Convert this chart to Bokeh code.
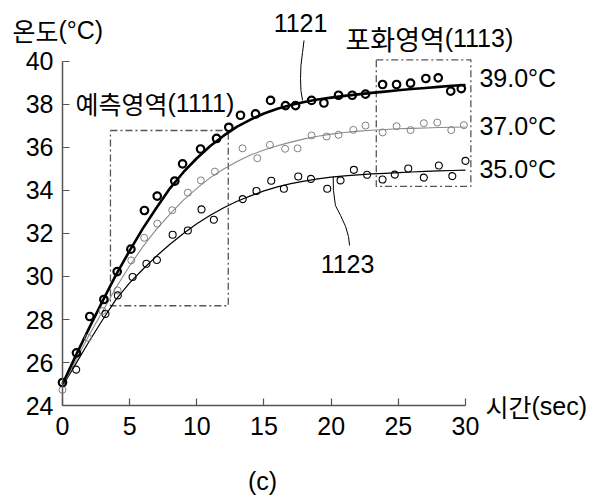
from bokeh.plotting import figure
from bokeh.models import Range1d, FixedTicker, Label, LinearAxis
from bokeh.embed import file_html
from bokeh.resources import INLINE

# ---------------- data ----------------
# measured points, 39.0 C series (bold circles)
t39 = [0, 1.04, 2.03, 3.08, 4.07, 5.09, 6.1, 7.05, 8.36, 8.94, 10.28, 11.47, 12.38,
       13.25, 14.37, 15.49, 16.6, 17.35, 18.54, 19.46, 20.55, 21.57, 22.56, 23.83,
       24.87, 25.91, 27.05, 27.97, 28.9, 29.69]
v39 = [25.07, 26.45, 28.14, 28.93, 30.23, 31.27, 33.07, 33.74, 34.44, 35.24, 35.93,
       36.42, 36.94, 37.5, 37.56, 38.19, 37.95, 37.95, 38.19, 38.07, 38.43, 38.43,
       38.48, 38.93, 38.93, 38.99, 39.21, 39.24, 38.62, 38.74]

# 37.0 C series (grey circles)
t37 = [0, 1.9, 2.98, 4.1, 5.12, 6.08, 7.06, 8.17, 9.33, 10.3, 11.34, 13.4, 14.5,
       15.44, 16.57, 17.5, 18.54, 19.66, 20.55, 21.65, 22.56, 23.83, 24.87, 25.91,
       26.9, 27.9, 28.94, 29.88]
v37 = [24.73, 27.15, 28.4, 29.35, 30.75, 31.8, 32.46, 33.08, 33.9, 34.47, 34.88,
       35.96, 35.5, 36.12, 35.94, 35.96, 36.56, 36.51, 36.59, 36.82, 37.02, 36.7,
       36.99, 36.81, 37.13, 37.16, 36.81, 37.04]

# 35.0 C series (thin black circles)
t35 = [1.02, 3.2, 4.12, 5.22, 6.25, 7.03, 8.2, 9.33, 10.35, 11.27, 13.42, 14.44,
       15.54, 16.48, 17.55, 18.5, 19.71, 20.7, 21.69, 22.68, 23.83, 24.74, 25.74,
       26.9, 28.02, 29.02, 30.0]
v35 = [25.67, 28.26, 29.12, 29.98, 30.59, 30.77, 31.94, 32.14, 33.12, 32.64, 33.6,
       33.98, 34.45, 34.08, 34.65, 34.54, 34.08, 34.47, 34.96, 34.73, 34.51, 34.74,
       35.02, 34.6, 35.16, 34.67, 35.38]

# fitted curves, read at every second
fit_t = list(range(0, 31))
fit39 = [25.0, 26.33, 27.62, 28.88, 30.1, 31.2, 32.25, 33.2, 34.1, 34.85, 35.5, 36.07,
         36.55, 36.97, 37.3, 37.58, 37.8, 37.98, 38.12, 38.23, 38.32, 38.4, 38.47,
         38.54, 38.6, 38.66, 38.72, 38.77, 38.82, 38.87, 38.91]
fit37 = [24.9, 26.1, 27.3, 28.4, 29.5, 30.5, 31.4, 32.2, 32.9, 33.55, 34.1, 34.6,
         35.0, 35.35, 35.65, 35.88, 36.08, 36.25, 36.4, 36.52, 36.62, 36.7, 36.76,
         36.8, 36.84, 36.87, 36.89, 36.91, 36.93, 36.94, 36.95]
fit35 = [24.9, 25.95, 27.0, 28.0, 28.95, 29.7, 30.35, 30.95, 31.5, 32.0, 32.45, 32.85,
         33.2, 33.5, 33.75, 33.98, 34.17, 34.32, 34.44, 34.54, 34.62, 34.68, 34.73,
         34.77, 34.8, 34.83, 34.86, 34.89, 34.91, 34.93, 34.95]

# regions: (t_start, t_end, temp_low, temp_high)
predict_region = (3.57, 12.34, 28.64, 36.79)
saturate_region = (23.36, 30.40, 34.19, 40.08)

x_ticks = [0, 5, 10, 15, 20, 25, 30]
y_ticks = [24, 26, 28, 30, 32, 34, 36, 38, 40]

# leader lines
lead1121_t = [17.98, 17.87, 17.75, 17.72, 17.75, 17.87]
lead1121_v = [40.98, 40.42, 39.81, 39.21, 38.65, 38.19]
lead1123_t = [20.15, 20.17, 20.32, 20.70, 21.07, 21.29, 21.37]
lead1123_v = [34.65, 34.00, 33.30, 32.84, 32.33, 31.86, 31.44]

NUM_FONT = "Liberation Sans"
KR_FONT = "Noto Sans CJK KR"
NUM_SIZE = "25px"
KR_SIZE = "25px"

# ---------------- figure ----------------
# the frame spans the whole canvas; the axes are pinned at t=0 and 24 C
p = figure(width=589, height=503,
           x_range=Range1d(-4.6155, 39.232), y_range=Range1d(19.442, 42.837),
           output_backend="svg", toolbar_location=None,
           min_border_left=0, min_border_right=0, min_border_top=0, min_border_bottom=0,
           x_axis_type=None, y_axis_type=None)
p.outline_line_color = None
p.xgrid.visible = False
p.ygrid.visible = False
p.background_fill_color = "white"
p.border_fill_color = "white"

xax = LinearAxis(fixed_location=24)
yax = LinearAxis(fixed_location=0)
p.add_layout(xax, "below")
p.add_layout(yax, "left")

for ax, ticks, bnds in ((xax, x_ticks, (0, 30)), (yax, y_ticks, (24, 40))):
    ax.ticker = FixedTicker(ticks=ticks)
    ax.bounds = bnds
    ax.axis_line_color = "#555555"
    ax.axis_line_width = 1.5
    ax.major_tick_line_color = "#555555"
    ax.major_tick_line_width = 1.2
    ax.major_tick_in = 7
    ax.major_tick_out = 0
    ax.minor_tick_line_color = None
    ax.major_label_text_font = NUM_FONT
    ax.major_label_text_font_size = NUM_SIZE
    ax.major_label_text_color = "black"
xax.major_label_standoff = 11
yax.major_label_standoff = 9

# region boxes
for (x0, x1, y0, y1) in (predict_region, saturate_region):
    p.line([x0, x1, x1, x0, x0], [y1, y1, y0, y0, y1], line_color="#555555",
           line_width=1.3, line_dash="7 3 2 3")

# fitted curves
p.line(fit_t, fit35, line_color="black", line_width=1.2, line_join="round")
p.line(fit_t, fit37, line_color="#8a8a8a", line_width=1.1, line_join="round")
p.line(fit_t, fit39, line_color="black", line_width=2.6, line_join="round")

# measured points
p.scatter(t35, v35, size=7, marker="circle", fill_alpha=0, line_color="black", line_width=1.1)
p.scatter(t37, v37, size=7, marker="circle", fill_alpha=0, line_color="#808080", line_width=1.0)
p.scatter(t39, v39, size=7.5, marker="circle", fill_alpha=0, line_color="black", line_width=2.2)

# leader lines
p.line(lead1121_t, lead1121_v, line_color="black", line_width=1)
p.line(lead1123_t, lead1123_v, line_color="black", line_width=1)


def lab(x, y, text, font, size, align="left"):
    p.add_layout(Label(x=x, y=y, text=text, text_font=font, text_font_size=size,
                       text_baseline="middle", text_align=align, text_color="black"))


# axis titles
lab(-3.72, 41.45, "온도", KR_FONT, KR_SIZE)
lab(-0.30, 41.45, "(°C)", NUM_FONT, NUM_SIZE)
lab(31.49, 24.0, "시간", KR_FONT, KR_SIZE)
lab(34.91, 24.0, "(sec)", NUM_FONT, NUM_SIZE)
lab(14.89, 20.51, "(c)", NUM_FONT, NUM_SIZE, "center")

# annotations
lab(17.72, 41.77, "1121", NUM_FONT, NUM_SIZE, "center")
lab(21.22, 30.60, "1123", NUM_FONT, NUM_SIZE, "center")
lab(0.97, 38.09, "예측영역", KR_FONT, KR_SIZE)
lab(7.82, 38.09, "(1111)", NUM_FONT, NUM_SIZE)
lab(21.07, 41.07, "포화영역", KR_FONT, "27px")
lab(28.45, 41.07, "(1113)", NUM_FONT, NUM_SIZE)
lab(31.04, 39.21, "39.0°C", NUM_FONT, NUM_SIZE)
lab(31.04, 37.02, "37.0°C", NUM_FONT, NUM_SIZE)
lab(31.04, 34.98, "35.0°C", NUM_FONT, NUM_SIZE)

open("out.html", "w").write(file_html(p, INLINE))
